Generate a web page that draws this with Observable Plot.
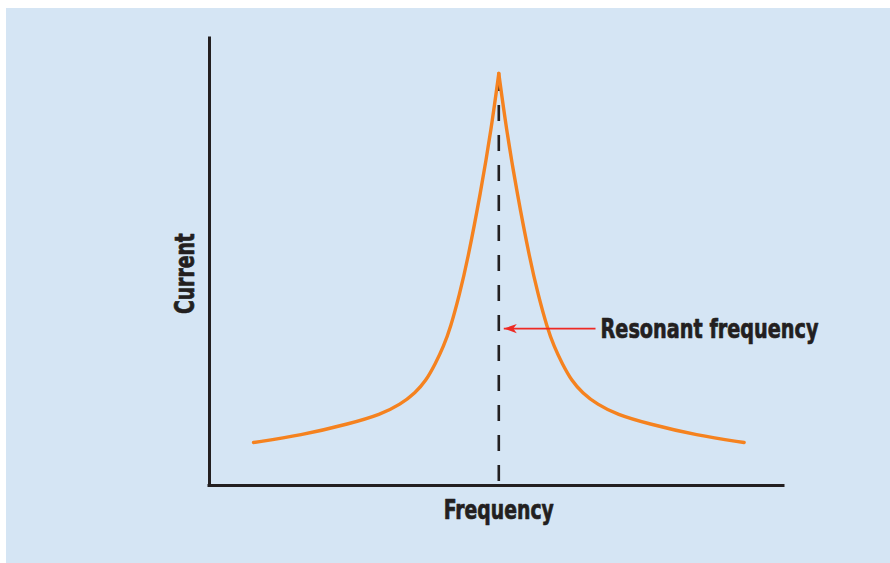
<!DOCTYPE html>
<html>
<head>
<meta charset="utf-8">
<script src="https://cdn.jsdelivr.net/npm/d3@7"></script>
<script src="https://cdn.jsdelivr.net/npm/@observablehq/plot@0.6"></script>
<style>
  html, body { margin: 0; padding: 0; background: #ffffff; }
  #wrap { position: relative; width: 890px; height: 563px; overflow: hidden; background: #ffffff; }
  #panel { position: absolute; left: 6px; top: 8px; right: 0; bottom: 0; background: #d5e5f4; }
  #chart { position: absolute; left: 0; top: 0; }
</style>
</head>
<body>
<div id="wrap"><div id="panel"></div><div id="chart"></div></div>
<script>
// Resonance curve (frequency and current in arbitrary 0–100 units)
const freqLeft     = [7.67, 15.85, 24.56, 29.79, 33.28, 35.89, 37.63, 39.37, 40.77, 41.99, 43.55, 44.95, 47.21, 49.13, 50.40];
const currentLeft  = [9.62, 11.19, 13.87, 15.88, 18.12, 20.81, 23.27, 27.29, 31.10, 35.35, 42.73, 50.34, 65.32, 80.09, 92.17];
const freqRight    = [50.40, 51.67, 53.59, 55.85, 57.25, 58.82, 60.03, 61.43, 63.17, 64.91, 67.53, 71.01, 76.24, 84.95, 93.14];
const currentRight = [92.17, 80.09, 65.32, 50.34, 42.73, 35.35, 31.10, 27.29, 23.27, 20.81, 18.12, 15.88, 13.87, 11.19, 9.62];

// Annotation values
const resonantFreq = 50.40;
const dashTop = 91.7;
const arrowStart = 67.25;
const arrowEnd = 51.27;
const arrowLevel = 35.1;
const labelX = 68.12;
const labelY = 33.1;
const labelText = "Resonant frequency";
const xTitle = "Frequency";
const yTitle = "Current";

const curve = [
  ...freqLeft.map((f, i) => ({f, c: currentLeft[i], side: "left"})),
  ...freqRight.map((f, i) => ({f, c: currentRight[i], side: "right"}))
];

const ink = "#231f20";
const font = "'DejaVu Sans Condensed', 'DejaVu Sans', sans-serif";

const arrowHead = {
  draw(ctx) {
    ctx.moveTo(-6.5, 0);
    ctx.lineTo(6.5, -4.6);
    ctx.lineTo(3, 0);
    ctx.lineTo(6.5, 4.6);
    ctx.closePath();
  }
};

const textStyle = {fontSize: 27, fontWeight: "bold", fill: ink, stroke: ink, strokeWidth: 0.7, fontFamily: font, lineAnchor: "bottom"};

const chart = Plot.plot({
  width: 890,
  height: 563,
  marginLeft: 209,
  marginRight: 107,
  marginTop: 38,
  marginBottom: 78,
  x: {domain: [0, 100], axis: null},
  y: {domain: [0, 100], axis: null},
  style: {background: "transparent", overflow: "visible", fontFamily: font},
  marks: [
    Plot.ruleX([resonantFreq], {y1: dashTop, y2: 0, stroke: ink, strokeWidth: 2.6, strokeDasharray: "16,14"}),
    Plot.line(curve, {x: "f", y: "c", z: "side", curve: "basis", stroke: "#f5821f", strokeWidth: 3.4, strokeLinecap: "round", strokeLinejoin: "round"}),
    Plot.ruleX([0], {stroke: ink, strokeWidth: 3, strokeLinecap: "square"}),
    Plot.ruleY([0], {stroke: ink, strokeWidth: 3, strokeLinecap: "square"}),
    Plot.link([{x1: arrowStart, x2: arrowEnd, y: arrowLevel}], {x1: "x1", x2: "x2", y1: "y", y2: "y", stroke: "#ee2a24", strokeWidth: 1.6}),
    Plot.dot([{x: arrowEnd, y: arrowLevel}], {x: "x", y: "y", r: 5, symbol: arrowHead, fill: "#ee2a24", stroke: "none", dx: 6.5}),
    Plot.text([labelText], {x: labelX, y: labelY, text: d => d, textAnchor: "start", ...textStyle}),
    Plot.text([xTitle], {x: resonantFreq, y: 0, dy: 33, text: d => d, textAnchor: "middle", ...textStyle}),
    Plot.text([yTitle], {x: 0, y: 47.4, dx: -15.7, rotate: -90, text: d => d, textAnchor: "middle", ...textStyle})
  ]
});

const widths = {"Resonant frequency": 218, "Frequency": 110, "Current": 81};
chart.querySelectorAll("text").forEach(t => {
  const w = widths[t.textContent.trim()];
  if (w) {
    t.setAttribute("textLength", w);
    t.setAttribute("lengthAdjust", "spacingAndGlyphs");
    t.style.fontStretch = "condensed";
  }
});

document.getElementById("chart").appendChild(chart);
</script>
</body>
</html>
